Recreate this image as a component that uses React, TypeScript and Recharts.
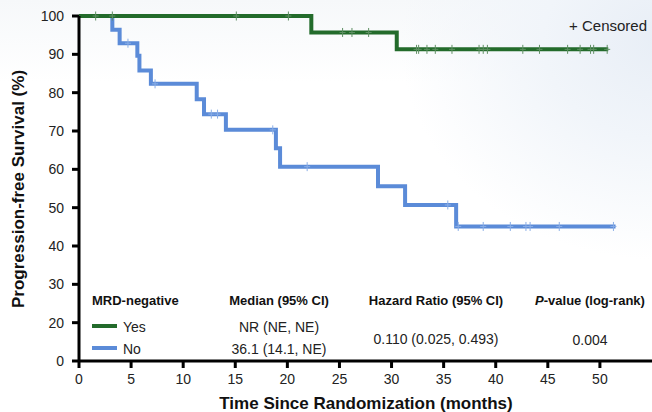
import React from 'react';
import { ComposedChart, Line, Scatter, XAxis, YAxis } from 'recharts';

// Kaplan-Meier steps: [month, survival %]
const yesSteps: [number, number][] = [
  [0, 100], [22.3, 95.7], [30.5, 91.3], [50.8, 91.3],
];
const noSteps: [number, number][] = [
  [0, 100], [3.2, 96.4], [3.9, 92.9], [5.6, 89.6], [5.8, 85.8], [6.9, 82.3],
  [11.3, 78.3], [12.0, 74.4], [14.1, 70.3], [18.9, 65.5], [19.3, 60.7],
  [28.7, 55.6], [31.3, 50.7], [36.2, 45.1], [51.5, 45.1],
];

// censoring times (months)
const yesCensored = [
  1.6, 3.2, 15.1, 20.1, 25.3, 26.2, 27.8, 32.4, 32.6, 33.4, 34.2, 35.8,
  38.4, 38.8, 39.2, 42.6, 44.2, 46.9, 48.1, 49.1, 49.4, 50.7,
];
const noCensored = [
  4.7, 7.3, 12.7, 13.3, 18.6, 21.9, 35.4, 36.4, 38.8, 41.4, 42.9, 43.3, 46.1, 51.3,
];

const xTicks = [0, 5, 10, 15, 20, 25, 30, 35, 40, 45, 50];
const yTicks = [10, 20, 30, 40, 50, 60, 70, 80, 90, 100];
const yTickLabels = ['0', '20', '30', '40', '50', '60', '70', '80', '90', '100'];

const GREEN = '#236b2b';
const BLUE = '#5b8bd8';
const FONT = "Arial, 'Liberation Sans', sans-serif";

const toPoints = (steps: [number, number][]) => steps.map(([t, s]) => ({ t, s }));

// survival value of a step curve at time t
const levelAt = (steps: [number, number][], t: number) => {
  let s = steps[0][1];
  for (const [time, val] of steps) if (time <= t) s = val;
  return s;
};

const censorPoints = (steps: [number, number][], times: number[]) =>
  times.map((t) => ({ t, s: levelAt(steps, t) }));

const makeTick = (color: string) => (props: any) => {
  const { cx, cy } = props;
  return (
    <path
      d={`M${cx - 3},${cy}H${cx + 3}M${cx},${cy - 4.5}V${cy + 4.5}`}
      stroke={color}
      strokeWidth={1}
      fill="none"
    />
  );
};

const axisStyle = { stroke: '#000', strokeWidth: 3 };
const tickStyle = { fill: '#222', fontSize: 14, fontFamily: FONT };

const App: React.FC = () => {
  return (
    <div
      style={{
        position: 'absolute',
        left: 0,
        top: 0,
        width: 652,
        height: 412,
        overflow: 'hidden',
        background:
          'radial-gradient(ellipse 260px 220px at 660px 40px, #e8eef6 0%, #f1f5fa 45%, rgba(255,255,255,0) 100%), linear-gradient(180deg, #f6f8fa 0%, #ffffff 20%, #ffffff 100%)',
      }}
    >
      <ComposedChart
        width={652}
        height={412}
        margin={{ top: 16, right: 0, bottom: 0, left: 0 }}
      >
        <XAxis
          type="number"
          dataKey="t"
          domain={[0, 55]}
          ticks={xTicks}
          interval={0}
          height={51}
          tickSize={7}
          tickMargin={6}
          axisLine={axisStyle}
          tickLine={axisStyle}
          tick={tickStyle}
        />
        <YAxis
          type="number"
          dataKey="s"
          domain={[10, 100]}
          ticks={yTicks}
          interval={0}
          width={79}
          tickSize={7}
          tickMargin={8}
          axisLine={axisStyle}
          tickLine={axisStyle}
          tick={tickStyle}
          tickFormatter={(v: number) => yTickLabels[yTicks.indexOf(v)]}
        />
        <Line
          data={toPoints(noSteps)}
          dataKey="s"
          type="stepAfter"
          stroke={BLUE}
          strokeWidth={4}
          dot={false}
          isAnimationActive={false}
        />
        <Line
          data={toPoints(yesSteps)}
          dataKey="s"
          type="stepAfter"
          stroke={GREEN}
          strokeWidth={4}
          dot={false}
          isAnimationActive={false}
        />
        <Scatter
          data={censorPoints(noSteps, noCensored)}
          dataKey="s"
          shape={makeTick('#8aaee6')}
          isAnimationActive={false}
        />
        <Scatter
          data={censorPoints(yesSteps, yesCensored)}
          dataKey="s"
          shape={makeTick('#5f8f63')}
          isAnimationActive={false}
        />
      </ComposedChart>

      <svg
        width={652}
        height={412}
        style={{ position: 'absolute', left: 0, top: 0, pointerEvents: 'none' }}
        fontFamily={FONT}
      >
        <text
          transform="translate(24,189) rotate(-90)"
          textAnchor="middle"
          fontSize={17}
          fontWeight="bold"
          fill="#111"
        >
          Progression-free Survival (%)
        </text>
        <text x={366} y={409} textAnchor="middle" fontSize={17} fontWeight="bold" fill="#111">
          Time Since Randomization (months)
        </text>

        <text x={647} y={31} textAnchor="end" fontSize={15} fill="#222">
          + Censored
        </text>

        <g fontSize={13} fontWeight="bold" fill="#111">
          <text x={92} y={305}>MRD-negative</text>
          <text x={279} y={305} textAnchor="middle">Median (95% CI)</text>
          <text x={436} y={305} textAnchor="middle">Hazard Ratio (95% CI)</text>
          <text x={590} y={305} textAnchor="middle">
            <tspan fontStyle="italic">P</tspan>-value (log-rank)
          </text>
        </g>
        <line x1={92} x2={117} y1={326} y2={326} stroke={GREEN} strokeWidth={4} />
        <line x1={92} x2={117} y1={348} y2={348} stroke={BLUE} strokeWidth={4} />
        <g fontSize={14} fill="#222">
          <text x={123} y={332}>Yes</text>
          <text x={123} y={354}>No</text>
          <text x={279} y={332} textAnchor="middle">NR (NE, NE)</text>
          <text x={279} y={354} textAnchor="middle">36.1 (14.1, NE)</text>
          <text x={436} y={344} textAnchor="middle">0.110 (0.025, 0.493)</text>
          <text x={590} y={345} textAnchor="middle">0.004</text>
        </g>
      </svg>
    </div>
  );
};

export default App;
